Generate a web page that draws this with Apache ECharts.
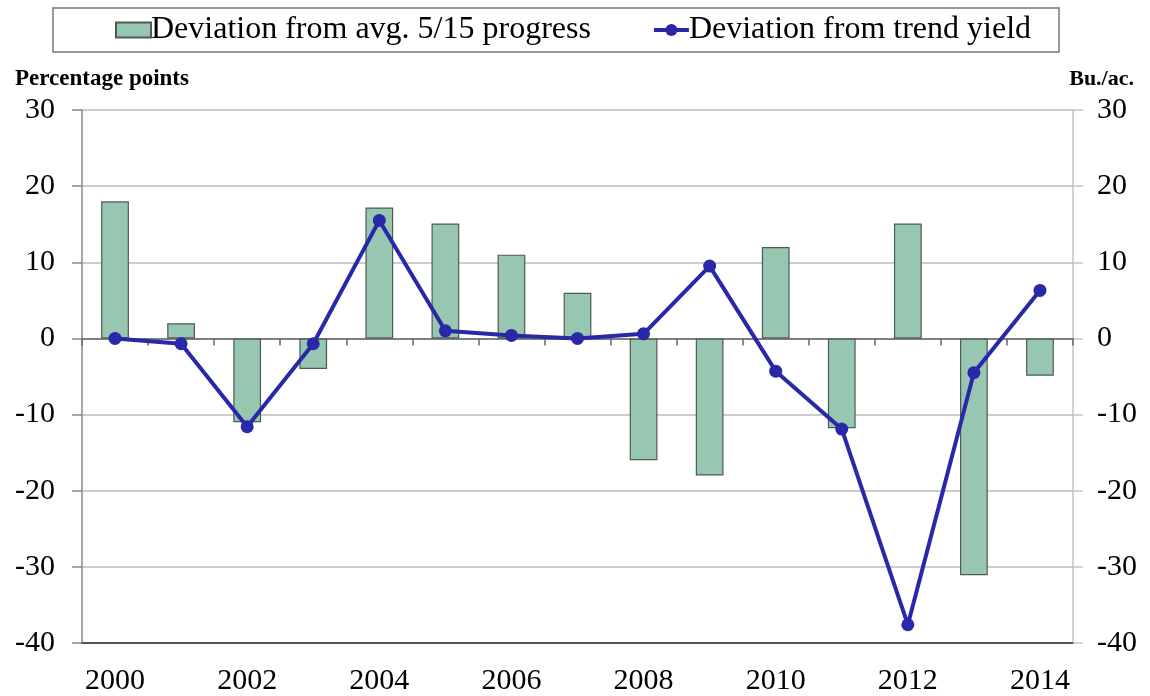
<!DOCTYPE html>
<html>
<head>
<meta charset="utf-8">
<script src="https://cdn.jsdelivr.net/npm/echarts@6/dist/echarts.min.js"></script>
<style>
    html, body {margin: 0; padding: 0; background: #fff;}
    #chart {width: 1150px; height: 696px;}
</style>
</head>
<body>
<div id="chart"></div>
<script>
// Years on the x axis
const years = ['2000', '2001', '2002', '2003', '2004', '2005', '2006', '2007',
    '2008', '2009', '2010', '2011', '2012', '2013', '2014'];
// Percentage points, bars
const progressDeviation = [18, 2, -11, -4, 17.2, 15.1, 11, 6, -16, -18, 12, -11.8, 15.1, -31.1, -4.9];
// Bu./ac., line
const yieldDeviation = [0, -0.7, -11.6, -0.7, 15.5, 1, 0.4, 0, 0.6, 9.5, -4.3, -11.9, -37.6, -4.5, 6.3];

const serif = '"Liberation Serif", "DejaVu Serif", serif';

let myChart = echarts.init(document.getElementById('chart'));

// tick labels on both value axes
function valueAxis(position, lineColor, margin) {
    return {
        type: 'value',
        position: position,
        min: -40,
        max: 30,
        interval: 10,
        axisLine: {show: true, lineStyle: {color: lineColor, width: 1.5}},
        axisTick: {show: true, length: 10, lineStyle: {color: lineColor, width: 1.5}},
        axisLabel: {
            color: '#000',
            fontFamily: serif,
            fontSize: 30,
            margin: margin
        },
        splitLine: {show: position === 'left', lineStyle: {color: '#bdbdbd', width: 1.5}}
    };
}

let option = {
    animation: false,
    backgroundColor: '#fff',
    textStyle: {fontFamily: serif},
    legend: {
        top: 8,
        left: 53,
        padding: [6, 28, 6, 62],
        borderColor: '#777',
        borderWidth: 1.5,
        itemGap: 61,
        itemWidth: 35,
        itemHeight: 15,
        textStyle: {color: '#000', fontFamily: serif, fontSize: 32, padding: [0, 0, 0, -5]},
        data: [
            {name: 'Deviation from avg. 5/15 progress', icon: 'rect'},
            {name: 'Deviation from trend yield', lineStyle: {width: 4}}
        ]
    },
    title: [
        {
            text: 'Percentage points',
            left: 10,
            top: 63,
            textStyle: {fontFamily: serif, fontSize: 23, fontWeight: 'bold', color: '#000'}
        },
        {
            text: 'Bu./ac.',
            right: 11,
            top: 63,
            textStyle: {fontFamily: serif, fontSize: 22, fontWeight: 'bold', color: '#000'}
        }
    ],
    grid: {left: 82, right: 77, top: 110, bottom: 53},
    xAxis: [
        {
            type: 'category',
            data: years,
            position: 'bottom',
            axisLine: {onZero: false, lineStyle: {color: '#555', width: 2}},
            axisTick: {show: false},
            axisLabel: {
                interval: 1,
                color: '#000',
                fontFamily: serif,
                fontSize: 30,
                margin: 23
            }
        },
        {
            // zero line with category ticks
            type: 'category',
            data: years,
            position: 'bottom',
            axisLine: {onZero: true, onZeroAxisIndex: 0, lineStyle: {color: '#666', width: 1.5}},
            axisTick: {show: true, interval: 0, length: 7, lineStyle: {color: '#666', width: 1.5}},
            axisLabel: {show: false}
        }
    ],
    yAxis: [
        valueAxis('left', '#888', 27),
        valueAxis('right', '#c4c4c4', 24)
    ],
    series: [
        {
            name: 'Deviation from avg. 5/15 progress',
            type: 'bar',
            xAxisIndex: 0,
            yAxisIndex: 0,
            data: progressDeviation,
            barWidth: '42%',
            itemStyle: {color: '#97c7b0', borderColor: '#4d5a52', borderWidth: 1.2}
        },
        {
            name: 'Deviation from trend yield',
            type: 'line',
            xAxisIndex: 0,
            yAxisIndex: 1,
            data: yieldDeviation,
            symbol: 'circle',
            symbolSize: 13,
            lineStyle: {color: '#2828a8', width: 4},
            itemStyle: {color: '#2828a8'}
        }
    ]
};

myChart.setOption(option);
</script>
</body>
</html>
